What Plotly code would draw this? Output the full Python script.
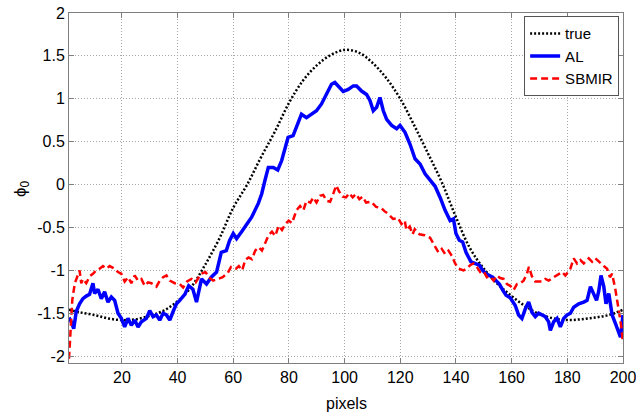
import plotly.graph_objects as go

# ---- data ----
true_x = [1, 5, 10, 15, 20, 25, 30, 35, 40, 45, 50, 55, 60, 65, 70, 75, 80, 85, 90, 95, 100,
          105, 110, 115, 120, 125, 130, 135, 140, 145, 150, 155, 160, 165, 170, 175, 180, 185, 190, 195, 200]
true_y = [-1.46, -1.49, -1.52, -1.56, -1.58, -1.57, -1.53, -1.47, -1.36, -1.19, -0.93, -0.63, -0.27, 0.0,
          0.32, 0.62, 0.95, 1.21, 1.39, 1.51, 1.57, 1.54, 1.42, 1.24, 1.00, 0.69, 0.36, 0.02, -0.38,
          -0.74, -0.98, -1.16, -1.30, -1.42, -1.51, -1.56, -1.58, -1.57, -1.55, -1.52, -1.46]

al_x = [1, 1.8, 2.7, 3.6, 4.8, 6, 7.2, 8.4, 9.6, 10.2, 11.4, 12.6, 13.8, 15, 16.2, 17.4, 18.6, 19.8, 21,
        22.2, 23.4, 24.6, 25.8, 27, 28.8, 30, 31.2, 32.4, 33.6, 34.8, 36, 37.2, 38.4, 39.6, 40.8, 42.6, 44,
        45.5, 46.8, 48.6, 50.4, 52.1, 54, 55.7, 57.5, 58.7, 60, 61.2, 63, 64.8, 66.6, 69, 70.2, 71.4, 72.6,
        74.4, 76, 77.4, 78.5, 79.7, 81.5, 83.3, 84.5, 86.3, 88.1, 89.9, 91.7, 93.5, 95.3, 96.5, 97.7, 99.5,
        101.3, 103.1, 104.3, 106.1, 107.9, 109.1, 110.3, 111.5, 112.7, 113.9, 115.1, 116.9, 118.7, 119.9,
        121.7, 123.5, 125.3, 127.1, 128.9, 130.7, 132.5, 134.3, 136.1, 137.9, 139.1, 140, 141.2, 142.4,
        143.6, 145.4, 146.6, 148.4, 149.6, 150.8, 152, 153.2, 154.4, 155.6, 156.8, 158, 159.5, 161.3,
        162.5, 163.7, 164.9, 166.1, 167.3, 168.5, 169.7, 170.9, 172.1, 173.3, 173.9, 175.1, 176.3, 177.5,
        178.7, 179.9, 181.1, 182.3, 184.1, 185.9, 187.1, 188.3, 189.5, 190.5, 191.3, 192.1, 193.1, 193.9,
        194.9, 196.1, 197.3, 199.1, 200]
al_y = [-1.55, -1.60, -1.68, -1.48, -1.39, -1.33, -1.30, -1.28, -1.15, -1.27, -1.22, -1.33, -1.25, -1.37,
        -1.31, -1.35, -1.50, -1.56, -1.66, -1.56, -1.64, -1.58, -1.66, -1.60, -1.56, -1.47, -1.54, -1.52,
        -1.58, -1.50, -1.52, -1.58, -1.48, -1.39, -1.35, -1.28, -1.18, -1.22, -1.37, -1.10, -1.16, -1.08,
        -1.02, -0.79, -0.77, -0.65, -0.57, -0.63, -0.55, -0.46, -0.38, -0.22, -0.11, 0.05, 0.20, 0.20,
        0.17, 0.28, 0.43, 0.55, 0.57, 0.71, 0.82, 0.78, 0.82, 0.86, 0.94, 1.05, 1.17, 1.19, 1.15, 1.085,
        1.11, 1.15, 1.15, 1.09, 1.05, 0.98, 0.86, 0.90, 1.015, 0.86, 0.76, 0.69, 0.65, 0.69, 0.61, 0.47,
        0.30, 0.24, 0.125, 0.05, -0.02, -0.15, -0.30, -0.42, -0.40, -0.57, -0.65, -0.67, -0.79, -0.90,
        -0.92, -0.94, -1.00, -1.04, -1.06, -1.08, -1.12, -1.16, -1.23, -1.29, -1.32, -1.41, -1.52, -1.56,
        -1.45, -1.37, -1.49, -1.54, -1.50, -1.52, -1.54, -1.60, -1.70, -1.60, -1.56, -1.66, -1.56, -1.52,
        -1.50, -1.43, -1.39, -1.37, -1.35, -1.19, -1.27, -1.35, -1.24, -1.06, -1.19, -1.39, -1.27, -1.52,
        -1.62, -1.78, -1.52]

sb_x = [1, 1.5, 2.2, 3.1, 4.3, 4.8, 5.4, 6, 7.2, 8.4, 9.6, 10.8, 12, 13.2, 14.4, 15.6, 16.8, 18.6, 19.8,
        21, 22.2, 23.4, 24.6, 25.8, 27, 28.2, 29.4, 30.6, 32.4, 33.6, 34.8, 36, 37.2, 39, 40.8, 42, 43.4,
        45, 46.5, 48.4, 50, 51.6, 52.8, 54.5, 56.2, 58, 59.2, 61, 62, 63.2, 64.3, 65.5, 66.7, 67.9, 69.1,
        70.3, 71.5, 72.7, 73.9, 75.1, 76.3, 77.5, 78.7, 79.9, 81.1, 82.7, 84, 85.2, 86.3, 87.7, 88.7, 89.9,
        91.2, 92.3, 93.6, 94.8, 96, 97, 98, 99.3, 100.5, 101.7, 102.9, 104.1, 105.3, 106.5, 107.7, 109.5,
        111.3, 113.1, 114.3, 115.6, 117.4, 119.2, 120.4, 121.6, 122.2, 123.4, 124.4, 125.2, 126.9, 128.7,
        130.7, 132.5, 133.7, 134.9, 136.1, 137.3, 138.5, 139.7, 140.9, 142.7, 143.9, 145.1, 146.3, 147.5,
        148.7, 149.9, 151.1, 152.3, 153.5, 154.7, 155.9, 157.1, 158.3, 159.5, 160.7, 161.9, 163.1, 164.3,
        165.5, 166.2, 167.3, 168.5, 169.7, 170.9, 172.1, 173.3, 175.1, 176.9, 178.1, 179.3, 181.1, 182.3,
        183.5, 184.7, 185.9, 187.7, 188.9, 190.1, 191.3, 193.1, 194.3, 195.3, 196.1, 197.3, 198.5, 199.4,
        200]
sb_y = [-2.03, -1.73, -1.34, -1.15, -1.04, -1.00, -1.15, -1.10, -1.15, -1.07, -1.04, -1.00, -0.98, -0.95,
        -0.98, -0.95, -0.97, -1.02, -1.04, -1.13, -1.08, -1.15, -1.06, -1.12, -1.10, -1.18, -1.14, -1.15,
        -1.19, -1.12, -1.08, -1.06, -1.12, -1.15, -1.16, -1.20, -1.13, -1.10, -1.14, -1.04, -1.02, -1.09,
        -1.12, -1.10, -1.08, -1.03, -0.96, -0.98, -0.95, -1.00, -0.88, -0.85, -0.87, -0.77, -0.73, -0.77,
        -0.67, -0.59, -0.55, -0.60, -0.48, -0.53, -0.46, -0.42, -0.45, -0.30, -0.25, -0.30, -0.19, -0.21,
        -0.15, -0.21, -0.13, -0.12, -0.19, -0.20, -0.10, -0.01, -0.08, -0.14, -0.15, -0.10, -0.15, -0.11,
        -0.17, -0.14, -0.21, -0.20, -0.26, -0.27, -0.31, -0.34, -0.40, -0.39, -0.46, -0.42, -0.53, -0.49,
        -0.58, -0.52, -0.58, -0.59, -0.62, -0.73, -0.79, -0.75, -0.81, -0.77, -0.83, -0.92, -0.98, -1.00,
        -0.98, -0.94, -0.92, -0.96, -1.02, -1.01, -1.08, -1.07, -1.12, -1.06, -1.09, -1.10, -1.16, -1.18,
        -1.23, -1.16, -1.15, -1.12, -1.04, -0.96, -1.07, -1.13, -1.13, -1.13, -1.10, -1.12, -1.08, -1.04,
        -1.02, -1.06, -0.98, -0.86, -0.92, -0.88, -0.92, -0.86, -0.90, -0.86, -0.90, -0.95, -0.98, -1.08,
        -1.04, -1.23, -1.47, -1.66, -1.85]

x_ticks = [20, 40, 60, 80, 100, 120, 140, 160, 180, 200]
x_tick_labels = ["20", "40", "60", "80", "100", "120", "140", "160", "180", "200"]
y_ticks = [-2, -1.5, -1, -0.5, 0, 0.5, 1, 1.5, 2]
y_tick_labels = ["-2", "-1.5", "-1", "-0.5", "0", "0.5", "1", "1.5", "2"]

FONT = "Liberation Sans, Arial, sans-serif"

fig = go.Figure()
fig.add_trace(go.Scatter(x=true_x, y=true_y, mode="lines", name="true", line_shape="spline",
                         line=dict(color="black", width=2.5, dash="2px,2px")))
fig.add_trace(go.Scatter(x=al_x, y=al_y, mode="lines", name="AL",
                         line=dict(color="#0000ff", width=3.5)))
fig.add_trace(go.Scatter(x=sb_x, y=sb_y, mode="lines", name="SBMIR",
                         line=dict(color="#ff0000", width=2.5, dash="7px,4px")))

axis_common = dict(showline=True, linecolor="#7f7f7f", linewidth=1, mirror="ticks",
                   ticks="inside", ticklen=5, tickcolor="#7f7f7f",
                   showgrid=True, gridcolor="#a8a8a8", griddash="1px,2px", gridwidth=1,
                   zeroline=False, automargin=False,
                   tickfont=dict(family=FONT, size=16, color="black"))

fig.update_xaxes(range=[1, 200], tickvals=x_ticks, ticktext=x_tick_labels,
                 ticklabeloverflow="allow", **axis_common)
fig.update_yaxes(range=[-2.08, 2], tickvals=y_ticks, ticktext=y_tick_labels,
                 ticklabeloverflow="allow", **axis_common)

fig.update_layout(
    width=636, height=415,
    margin=dict(l=69, r=13, t=13, b=52, autoexpand=False),
    plot_bgcolor="white", paper_bgcolor="white",
    font=dict(family=FONT, size=16, color="black"),
    showlegend=True,
    legend=dict(x=0.993, y=0.991, xanchor="right", yanchor="top",
                bgcolor="white", bordercolor="#555555", borderwidth=1,
                font=dict(family=FONT, size=15), tracegroupgap=0,
                itemwidth=30),
    annotations=[
        dict(text="pixels", xref="paper", yref="paper", x=0.5, y=-0.117,
             xanchor="center", yanchor="middle", showarrow=False,
             font=dict(family=FONT, size=16)),
        dict(text="ϕ<sub>0</sub>", xref="paper", yref="paper", x=-0.085, y=0.5,
             xanchor="center", yanchor="middle", showarrow=False, textangle=-90,
             font=dict(family=FONT, size=17)),
    ],
)

fig.write_html("out.html", config={"displayModeBar": False},
               post_script="document.body.style.margin='0px';document.body.style.overflow='hidden';")
